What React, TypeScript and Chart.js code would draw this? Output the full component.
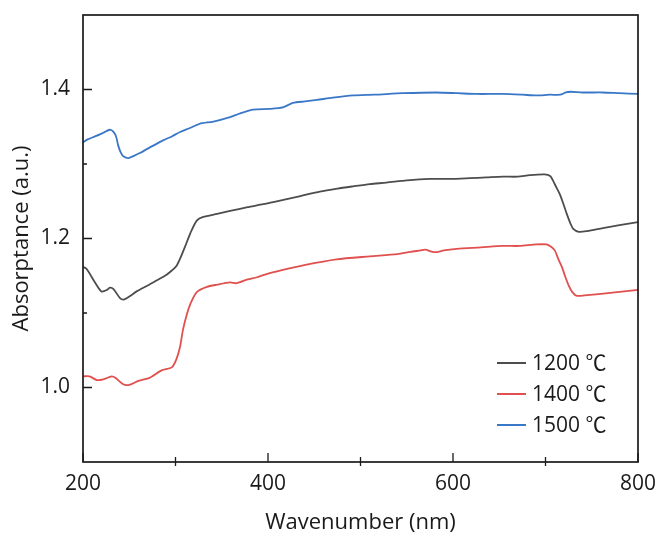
import React, { useEffect, useRef } from "react";
import { Chart, registerables } from "chart.js";

Chart.register(...registerables);

const FONT = "'Open Sans', 'Noto Sans CJK SC', sans-serif";
const LEGEND_FONT = "'Open Sans', 'Noto Sans CJK SC', sans-serif";

const seriesLabels = ["1200 ℃", "1400 ℃", "1500 ℃"];
const seriesColors = ["#4d4d4d", "#e0504e", "#3a77c7"];

const wl1200 = [200, 204, 213, 220, 226, 229, 233, 240, 244, 250, 258, 270, 280, 290, 296, 301, 305, 310, 316, 323, 330, 345, 359, 378, 395, 413, 435, 456, 475, 492, 510, 528, 550, 575, 597, 618, 636, 654, 670, 683, 699, 705, 708, 712, 716, 720, 723, 727, 730, 736, 745, 762, 780, 800];
const abs1200 = [1.162, 1.159, 1.141, 1.129, 1.131, 1.134, 1.132, 1.12, 1.118, 1.122, 1.129, 1.137, 1.144, 1.151, 1.157, 1.163, 1.173, 1.188, 1.207, 1.224, 1.229, 1.233, 1.237, 1.242, 1.246, 1.251, 1.257, 1.263, 1.267, 1.27, 1.273, 1.275, 1.278, 1.28, 1.28, 1.281, 1.282, 1.283, 1.283, 1.285, 1.286, 1.284, 1.278, 1.268, 1.258, 1.244, 1.233, 1.22, 1.213, 1.209, 1.21, 1.214, 1.218, 1.222];

const wl1400 = [200, 207, 215, 222, 231, 235, 244, 251, 260, 272, 285, 296, 301, 305, 308, 312, 316, 323, 334, 345, 359, 366, 378, 388, 400, 413, 438, 474, 510, 540, 554, 565, 570, 578, 584, 590, 604, 630, 654, 672, 690, 701, 706, 710, 714, 718, 721, 725, 729, 734, 745, 770, 800];
const abs1400 = [1.015, 1.015, 1.01, 1.011, 1.015, 1.013, 1.004, 1.004, 1.009, 1.013, 1.023, 1.027, 1.038, 1.055, 1.077, 1.097, 1.112, 1.128, 1.135, 1.138, 1.141, 1.14, 1.145, 1.148, 1.153, 1.157, 1.164, 1.172, 1.176, 1.179, 1.182, 1.184, 1.185, 1.182, 1.182, 1.184, 1.186, 1.188, 1.19, 1.19, 1.192, 1.192, 1.189, 1.184, 1.172, 1.161, 1.15, 1.137, 1.128, 1.123, 1.124, 1.127, 1.131];

const wl1500 = [200, 205, 213, 222, 229, 233, 236, 238, 241, 244, 249, 255, 262, 269, 278, 287, 296, 305, 315, 326, 341, 359, 370, 384, 402, 416, 427, 440, 453, 470, 492, 515, 546, 582, 605, 626, 654, 675, 690, 705, 716, 722, 727, 740, 762, 780, 800];
const abs1500 = [1.329, 1.333, 1.337, 1.342, 1.346, 1.343, 1.336, 1.325, 1.315, 1.31, 1.308, 1.311, 1.315, 1.32, 1.326, 1.332, 1.337, 1.343, 1.348, 1.354, 1.357, 1.363, 1.368, 1.373, 1.374, 1.376, 1.382, 1.384, 1.386, 1.389, 1.392, 1.393, 1.395, 1.396, 1.395, 1.394, 1.394, 1.393, 1.392, 1.393, 1.393, 1.396, 1.397, 1.396, 1.396, 1.395, 1.394];

const xMajorTicks = [200, 400, 600, 800];
const xMinorTicks = [300, 500, 700];
const yMajorTicks = [1.0, 1.2, 1.4];
const yMinorTicks = [1.1, 1.3];

const xTitle = "Wavenumber (nm)";
const yTitle = "Absorptance (a.u.)";

function pairs(xs: number[], ys: number[]) {
  return xs.map((x, i) => ({ x, y: ys[i] }));
}

const framePlugin = {
  id: "frameTicks",
  afterDatasetsDraw(chart: any) {
    const { ctx, chartArea } = chart;
    const { left, right, top, bottom } = chartArea;
    const xs = chart.scales.x;
    const ys = chart.scales.y;
    ctx.save();
    ctx.strokeStyle = "#1a1a1a";
    ctx.lineWidth = 1.7;
    ctx.strokeRect(left, top, right - left, bottom - top);
    ctx.lineWidth = 1.3;
    ctx.beginPath();
    for (const v of xMajorTicks) {
      const px = xs.getPixelForValue(v);
      ctx.moveTo(px, bottom);
      ctx.lineTo(px, bottom - 9);
    }
    for (const v of xMinorTicks) {
      const px = xs.getPixelForValue(v);
      ctx.moveTo(px, bottom + 4);
      ctx.lineTo(px, bottom - 5);
    }
    for (const v of yMajorTicks) {
      const py = ys.getPixelForValue(v);
      ctx.moveTo(left, py);
      ctx.lineTo(left + 9, py);
    }
    for (const v of yMinorTicks) {
      const py = ys.getPixelForValue(v);
      ctx.moveTo(left, py);
      ctx.lineTo(left + 4, py);
    }
    ctx.stroke();

    // legend
    const lx0 = 497;
    const lx1 = 526;
    const tx = 532;
    const rows = [363, 394, 425];
    ctx.font = `21px ${LEGEND_FONT}`;
    ctx.textBaseline = "middle";
    ctx.textAlign = "left";
    chart.data.datasets.forEach((ds: any, i: number) => {
      const y = rows[i];
      ctx.strokeStyle = ds.borderColor;
      ctx.lineWidth = 2;
      ctx.beginPath();
      ctx.moveTo(lx0, y);
      ctx.lineTo(lx1, y);
      ctx.stroke();
      ctx.fillStyle = "#1a1a1a";
      ctx.fillText(ds.label, tx, y + 1);
    });
    ctx.restore();
  },
};

export default function App() {
  const ref = useRef<HTMLCanvasElement | null>(null);
  useEffect(() => {
    if (!ref.current) return;
    const datasets = [
      pairs(wl1200, abs1200),
      pairs(wl1400, abs1400),
      pairs(wl1500, abs1500),
    ].map((d, i) => ({
      label: seriesLabels[i],
      data: d,
      borderColor: seriesColors[i],
      backgroundColor: seriesColors[i],
      borderWidth: 1.8,
      pointRadius: 0,
      tension: 0.25,
      fill: false,
    }));
    const chart = new Chart(ref.current, {
      type: "line",
      data: { datasets },
      plugins: [framePlugin],
      options: {
        animation: false,
        responsive: false,
        devicePixelRatio: 1,
        layout: { padding: { left: 0, top: 15, right: 24, bottom: 0 } },
        plugins: {
          legend: { display: false },
          tooltip: { enabled: false },
          title: { display: false },
        },
        scales: {
          x: {
            type: "linear",
            min: 200,
            max: 800,
            afterFit: (s: any) => {
              s.height = 82;
              s.paddingLeft = 0;
              s.paddingRight = 0;
            },
            grid: { display: false, drawTicks: false },
            border: { display: false },
            ticks: {
              stepSize: 100,
              padding: 9,
              color: "#1a1a1a",
              font: { family: FONT, size: 21, lineHeight: 1.2 },
              maxRotation: 0,
              autoSkip: false,
              callback: (v: any) => {
                const n = Math.round(Number(v));
                return n % 200 === 0 ? String(n) : "";
              },
            },
            title: {
              display: true,
              text: xTitle,
              color: "#1a1a1a",
              font: { family: FONT, size: 22, lineHeight: 1.2 },
              padding: { top: 0, bottom: 8 },
            },
          },
          y: {
            type: "linear",
            min: 0.9,
            max: 1.5,
            afterFit: (s: any) => {
              s.width = 83;
              s.paddingTop = 0;
              s.paddingBottom = 0;
            },
            grid: { display: false, drawTicks: false },
            border: { display: false },
            ticks: {
              stepSize: 0.1,
              padding: 13,
              color: "#1a1a1a",
              font: { family: FONT, size: 21, lineHeight: 1.2 },
              autoSkip: false,
              callback: (v: any) => {
                const n = Math.round(Number(v) * 10);
                return n % 2 === 0 && n >= 10 && n <= 14 ? (n / 10).toFixed(1) : "";
              },
            },
            title: {
              display: true,
              text: yTitle,
              color: "#1a1a1a",
              font: { family: FONT, size: 22, lineHeight: 1.2 },
              padding: { top: 9, bottom: 0 },
            },
          },
        },
      },
    } as any);
    return () => chart.destroy();
  }, []);
  return (
    <div style={{ position: "absolute", left: 0, top: 0, width: 662, height: 544, background: "#fff" }}>
      <canvas ref={ref} width={662} height={544} />
    </div>
  );
}
